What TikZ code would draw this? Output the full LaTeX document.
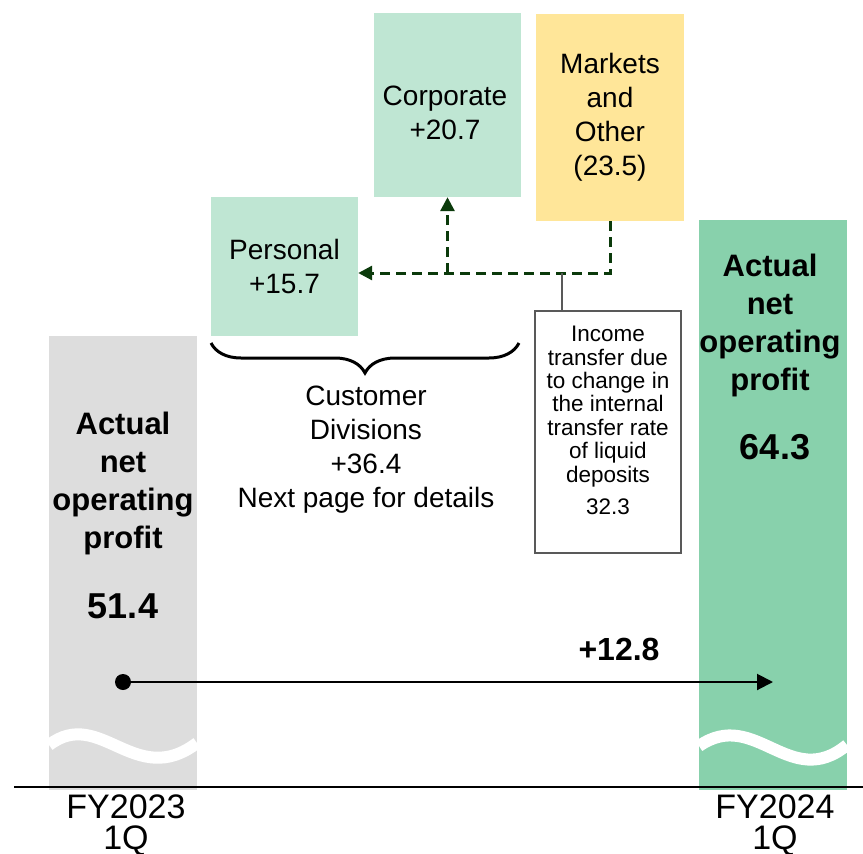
\documentclass[tikz,border=0pt]{standalone}
\usepackage{fontspec}
\setmainfont{Liberation Sans}
\usetikzlibrary{arrows.meta,decorations.pathreplacing}
\definecolor{greybar}{HTML}{DDDDDD}
\definecolor{greenbar}{HTML}{88D1AC}
\definecolor{lightgreen}{HTML}{BFE6D3}
\definecolor{lightyellow}{HTML}{FFE699}
\definecolor{darkgreen}{HTML}{0B3A0B}

\tikzset{
  bar/.style={rectangle, inner sep=0pt, minimum width=148pt},
  box/.style={rectangle, inner sep=0pt, align=center, font=\fontsize{28}{34}\selectfont},
  bartext/.style={align=center, font=\bfseries\fontsize{31}{38}\selectfont},
  dasharr/.style={darkgreen, line width=3pt, dash pattern=on 10pt off 6pt, -{Triangle[length=14pt,width=14pt]}},
  wave/.style={white, line width=12pt},
}

\begin{document}
\begin{tikzpicture}[x=1pt,y=-1pt]
\useasboundingbox (0,0) rectangle (863,854);

% the two bars, cut by a white wave
\node[bar, fill=greybar, minimum height=454pt] (fy23) at (123,563) {};
\node[bar, fill=greenbar, minimum height=570pt] (fy24) at (773,505) {};
\draw[wave] (49,745) .. controls (100,706) and (135,790) .. (197,743);
\draw[wave] (699,746) .. controls (755,707) and (790,792) .. (847,745);

\coordinate (axisL) at (14,787);
\coordinate (axisR) at (863,787);
\draw[line width=2pt] (axisL) -- (axisR);

\node[align=center, font=\fontsize{34}{31}\selectfont] (lab23) at (126,825) {FY2023\\1Q};
\node[align=center, font=\fontsize{34}{31}\selectfont] (lab24) at (775,825) {FY2024\\1Q};

\node[bartext] (act23) at (123,483) {Actual\\net\\operating\\profit};
\node[bartext, font=\bfseries\fontsize{36}{40}\selectfont] (val23) at (123,606) {51.4};
\node[bartext] (act24) at (770,325) {Actual\\net\\operating\\profit};
\node[bartext, font=\bfseries\fontsize{36}{40}\selectfont] (val24) at (775,447) {64.3};

% segment boxes
\node[box, fill=lightgreen, minimum width=147pt, minimum height=139pt] (pers) at (284.5,266.5) {Personal\\+15.7};
\node[box, fill=lightgreen, minimum width=147pt, minimum height=184pt] (corp) at (447.5,105) {};
\node[box] (corptxt) at (445,113) {Corporate\\+20.7};
\node[box, fill=lightyellow, minimum width=148pt, minimum height=207pt] (mkt) at (610,117.5) {Markets\\and\\Other\\(23.5)};

% transfer between divisions
\coordinate (elbow) at (mkt.south |- 0,273);
\draw[dasharr] (mkt.south) -- (elbow) -- (elbow -| pers.east);
\draw[dasharr] (corp.south |- elbow) -- (corp.south);

\node[draw=black!65, line width=1.2pt, align=center, minimum width=146pt, minimum height=242pt, inner sep=0pt,
      font=\fontsize{22.5}{23.4}\selectfont] (inc) at (608,432)
      {Income\\transfer due\\to change in\\the internal\\transfer rate\\of liquid\\deposits\\[9pt]32.3\\\mbox{}};
\coordinate (tap) at (562,273);
\draw[black!65, line width=1.2pt] (tap) -- (tap |- inc.north);

% customer divisions
\draw[line width=3pt, decorate, decoration={brace, amplitude=30pt, mirror}] (211,343) -- (519,343);
\node[box] (cust) at (366,450) {Customer\\Divisions\\+36.4\\Next page for details};

% overall change
\coordinate (from) at (123,682);
\coordinate (to) at (773,682);
\fill (from) circle (8pt);
\draw[line width=2pt, -{Triangle[length=16pt,width=16pt]}] (from) -- (to);
\node[font=\bfseries\fontsize{32}{36}\selectfont] (diff) at (619,649) {+12.8};
\end{tikzpicture}
\end{document}
